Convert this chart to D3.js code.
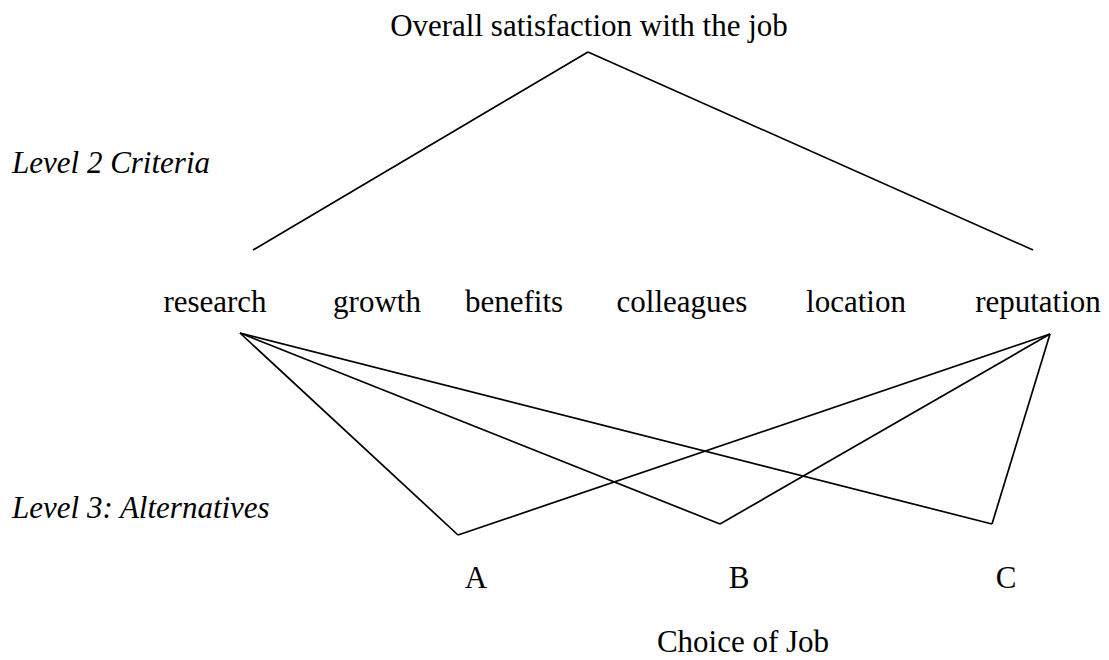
<!DOCTYPE html>
<html>
<head>
<meta charset="utf-8">
<script src="https://cdn.jsdelivr.net/npm/d3@7"></script>
<style>
body{margin:0;background:#fff}
text{font-family:"Liberation Serif","Times New Roman",serif;font-size:31px;fill:#000}
line{stroke:#000;stroke-width:1.7;fill:none}
</style>
</head>
<body>
<div class="chart"></div>
<script>
// hierarchy content
var goal = "Overall satisfaction with the job";
var criteria = ["research","growth","benefits","colleagues","location","reputation"];
var alternatives = ["A","B","C"];
var levelLabels = ["Level 2 Criteria","Level 3: Alternatives"];
var decision = "Choice of Job";
// only these criteria are joined to the goal and to the alternatives
var linked = ["research","reputation"];

var width = 1109, height = 660;

var svg = d3.select(".chart").append("svg")
    .attr("width",width).attr("height",height);

// layout scales
var xCrit = d3.scaleOrdinal().domain(criteria).range([215,377,514,682,856,1038]);
var xAlt = d3.scaleOrdinal().domain(alternatives).range([476,739,1006]);
var xVertex = d3.scaleOrdinal().domain(alternatives).range([458,720,992]);
var yVertex = d3.scaleOrdinal().domain(alternatives).range([535,524,524]);
// where lines meet each linked criterion (top end / bottom end)
var topEnd = d3.scaleOrdinal().domain(linked).range([[253,250],[1033,250]]);
var botEnd = d3.scaleOrdinal().domain(linked).range([[240,333],[1050,334]]);
var apex = [588,52];

// goal
svg.append("text").attr("x",589).attr("y",36).attr("text-anchor","middle").text(goal);

// goal -> criteria
svg.selectAll("line.top").data(linked).enter().append("line")
    .attr("class","top")
    .attr("x1",apex[0]).attr("y1",apex[1])
    .attr("x2",function(d){return topEnd(d)[0];})
    .attr("y2",function(d){return topEnd(d)[1];});

// level labels
svg.selectAll("text.level").data(levelLabels).enter().append("text")
    .attr("class","level")
    .attr("x",12)
    .attr("y",function(d,i){return i==0 ? 173 : 518;})
    .style("font-style","italic")
    .text(function(d){return d;});

// criteria
svg.selectAll("text.crit").data(criteria).enter().append("text")
    .attr("class","crit")
    .attr("x",function(d){return xCrit(d);})
    .attr("y",312)
    .attr("text-anchor","middle")
    .text(function(d){return d;});

// criteria -> alternatives, every pair
var pairs = [];
linked.forEach(function(c){ alternatives.forEach(function(a){ pairs.push({c:c,a:a}); }); });
svg.selectAll("line.alt").data(pairs).enter().append("line")
    .attr("class","alt")
    .attr("x1",function(d){return botEnd(d.c)[0];})
    .attr("y1",function(d){return botEnd(d.c)[1];})
    .attr("x2",function(d){return xVertex(d.a);})
    .attr("y2",function(d){return yVertex(d.a);});

// alternatives
svg.selectAll("text.alt").data(alternatives).enter().append("text")
    .attr("class","alt")
    .attr("x",function(d){return xAlt(d);})
    .attr("y",588)
    .attr("text-anchor","middle")
    .text(function(d){return d;});

svg.append("text").attr("x",743).attr("y",652).attr("text-anchor","middle").text(decision);
</script>
</body>
</html>
